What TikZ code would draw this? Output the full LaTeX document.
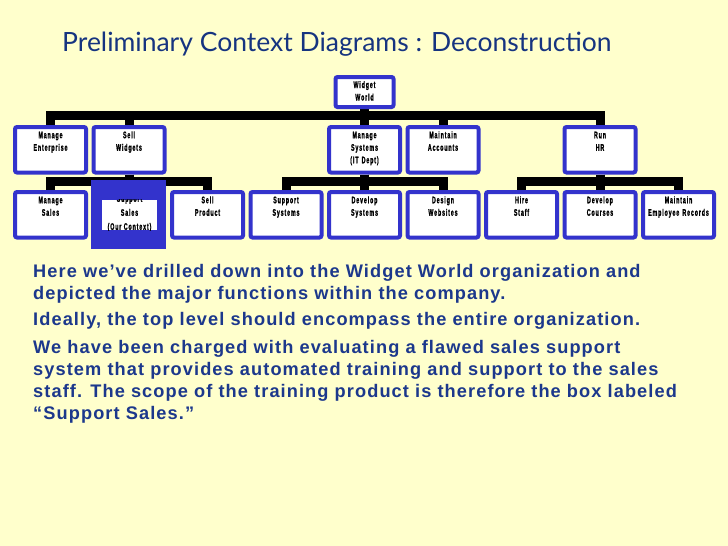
\documentclass[tikz,border=0pt]{standalone}
\usepackage{fontspec}
\setmainfont{Liberation Sans}
\newfontfamily\titlefont{Lato}
\newfontfamily\boxfont[FakeStretch=0.56,FakeBold=1.2,LetterSpace=9]{Liberation Sans Bold}
\newfontfamily\bodyfont[LetterSpace=6]{Liberation Sans}
\definecolor{slidebg}{RGB}{255,255,204}
\definecolor{boxblue}{RGB}{51,51,204}
\definecolor{textblue}{RGB}{28,56,140}
\definecolor{titleblue}{RGB}{22,52,128}
\pgfdeclarelayer{bg}
\pgfsetlayers{bg,main}
\tikzset{
    unit/.style={draw=boxblue, line width=4pt, fill=white, rounded corners=2pt,
        minimum width=71pt, minimum height=45.5pt, inner xsep=0.5pt, inner ysep=2pt,
        text width=70pt, align=center, text height=8pt, text depth=31pt,
        font=\boxfont\fontsize{9.5}{12.5}\selectfont, anchor=north},
    topunit/.style={unit, minimum width=58pt, minimum height=30pt, text width=57pt,
        text depth=16pt},
    bus/.style={line width=9pt, black}
}
\begin{document}
\begin{tikzpicture}[x=1pt,y=-1pt]
    \useasboundingbox (0,0) rectangle (728,546);
    \begin{pgfonlayer}{bg}
        \fill[slidebg] (0,0) rectangle (728,546);
    \end{pgfonlayer}
    \node[anchor=west, inner sep=0pt, text=titleblue, font=\titlefont\fontsize{26.5}{30}\selectfont]
        (title) at (62,44) {Preliminary Context Diagrams : Deconstruction};
    % organization chart
    \node[topunit] (ww) at (364.5,75) {Widget\\World};
    \foreach \k/\nm/\txt in {0/me/{Manage\\Enterprise}, 1/sw/{Sell\\Widgets},
            4/ms/{Manage\\Systems\\(IT Dept)}, 5/ma/{Maintain\\Accounts}, 7/hr/{Run\\HR}}
        \node[unit] (\nm) at (50.5+78.5*\k,125) {\txt};
    \foreach \k/\nm/\txt in {0/msal/{Manage\\Sales}, 2/sp/{Sell\\Product},
            3/sus/{Support\\Systems}, 4/ds/{Develop\\Systems}, 5/dw/{Design\\Websites},
            6/hs/{Hire\\Staff}, 7/dc/{Develop\\Courses},
            8/mer/{Maintain\\\makebox[\linewidth]{Employee Records}}}
        \node[unit] (\nm) at (50.5+78.5*\k,190) {\txt};
    \node[fill=boxblue, inner sep=0pt, minimum width=75pt, minimum height=69pt, anchor=north]
        (ss) at (128.5,180) {};
    \node[fill=white, inner sep=0pt, minimum width=55pt, minimum height=30pt]
        (ssin) at (129.5,215) {};
    \begin{scope}
        \clip (ssin.north west) rectangle (ssin.south east);
        \node[align=center, inner sep=0pt, font=\boxfont\fontsize{9.5}{14}\selectfont]
            (sstxt) at (129.5,213.5) {Support\\Sales\\(Our Context)};
    \end{scope}
    % connectors
    \begin{pgfonlayer}{bg}
        \coordinate (bus1) at (0,115.5);
        \coordinate (bus2) at (0,181);
        \foreach \c in {me,sw,ms,ma,hr}
            \draw[bus] (ww.south) -- (ww.south |- bus1) -| (\c.north);
        \foreach \p/\c in {sw/msal,sw/ss,sw/sp,ms/sus,ms/ds,ms/dw,hr/hs,hr/dc,hr/mer}
            \draw[bus] (\p.south) -- (\p.south |- bus2) -| (\c.north);
    \end{pgfonlayer}
    \node[anchor=north west, align=left, inner sep=0pt, text=textblue,
        font=\bodyfont\bfseries\fontsize{18.2}{22}\selectfont] (notes) at (33,264.5)
        {Here we’ve drilled down into the Widget World organization and\\
        depicted the major functions within the company.\\[4pt]
        Ideally, the top level should encompass the entire organization.\\[6pt]
        We have been charged with evaluating a flawed sales support\\
        system that provides automated training and support to the sales\\
        staff. The scope of the training product is therefore the box labeled\\
        “Support Sales.”};
\end{tikzpicture}
\end{document}
